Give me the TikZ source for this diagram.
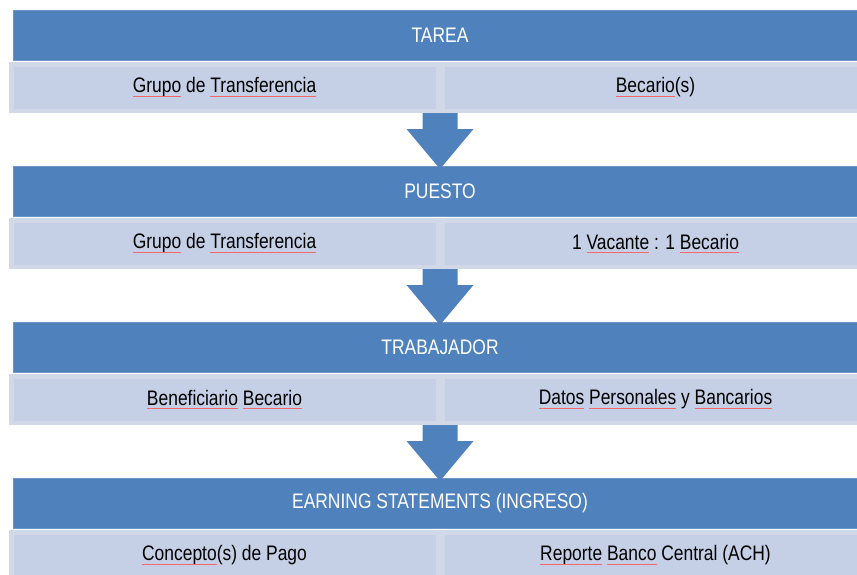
\documentclass[tikz,border=0pt]{standalone}
\usepackage{fontspec}
\setmainfont[FakeStretch=0.83]{Liberation Sans}
\usepackage{xcolor}
\usetikzlibrary{calc}

\definecolor{azul}{HTML}{4F81BD}
\definecolor{bordeazul}{HTML}{7096C8}
\definecolor{celdafondo}{HTML}{C5D0E6}
\definecolor{celdaborde}{HTML}{D1D9E9}
\definecolor{ortografia}{HTML}{F2686C}

% subrayado de ortografia
\newcommand{\orto}[1]{\tikz[baseline=(pal.base)]{\node[draw=none, fill=none, inner sep=0pt, outer sep=0pt, minimum width=0pt, minimum height=0pt, text=black] (pal) {#1};
    \fill[ortografia] ([yshift=-3pt]pal.base west) rectangle ([yshift=-4.1pt]pal.base east);}}
\newcommand{\tam}{\fontsize{21}{25}\selectfont}

\begin{document}
\begin{tikzpicture}[x=1pt, y=-1pt,
    encabezado/.style={fill=azul, draw=bordeazul, line width=0.8pt, minimum width=854, minimum height=50.2, inner sep=0pt, text=white, font=\tam},
    celda/.style={fill=celdafondo, draw=celdaborde, line width=4.5pt, minimum width=426.5, minimum height=46.5, inner sep=0pt, text=black, font=\tam},
    flecha/.style={fill=azul}]

    \useasboundingbox (0,0) rectangle (857,574);
    \clip (0,0) rectangle (857,574);

    % Tarea
    \node[encabezado] (tarea) at (440,35.5) {TAREA};
    \node[celda] (tareaL) at (224.5,87.5) {\orto{Grupo} de \orto{Transferencia}};
    \node[celda] (tareaR) at (655.5,87.5) {\orto{Becario}(s)};

    % Puesto
    \node[encabezado] (puesto) at (440,191.5) {PUESTO};
    \node[celda] (puestoL) at (224.5,243.5) {\orto{Grupo} de \orto{Transferencia}};
    \node[celda] (puestoR) at (655.5,243.5) {1 \orto{Vacante} : 1 \orto{Becario}};

    % Trabajador
    \node[encabezado] (trabajador) at (440,347.5) {TRABAJADOR};
    \node[celda] (trabajadorL) at (224.5,399.5) {\orto{Beneficiario} \orto{Becario}};
    \node[celda] (trabajadorR) at (655.5,399.5) {\orto{Datos} \orto{Personales} y \orto{Bancarios}};

    % Earning statements
    \node[encabezado] (earning) at (440,503.5) {EARNING STATEMENTS (INGRESO)};
    \node[celda] (earningL) at (224.5,555.5) {\orto{Concepto}(s) de Pago};
    \node[celda] (earningR) at (655.5,555.5) {\orto{Reporte} \orto{Banco} Central (ACH)};

    % Flechas
    \foreach \de/\a in {tareaL/puesto, puestoL/trabajador, trabajadorL/earning}
        \fill[flecha] ($(\de.south east)+(-17.5,0)$) -- ++(35,0) -- ++(0,16) -- ++(16,0)
            -- ($(\a.north)+(0,3)$) -- ($(\de.south east)+(-33.5,16)$) -- ++(16,0) -- cycle;

\end{tikzpicture}
\end{document}
